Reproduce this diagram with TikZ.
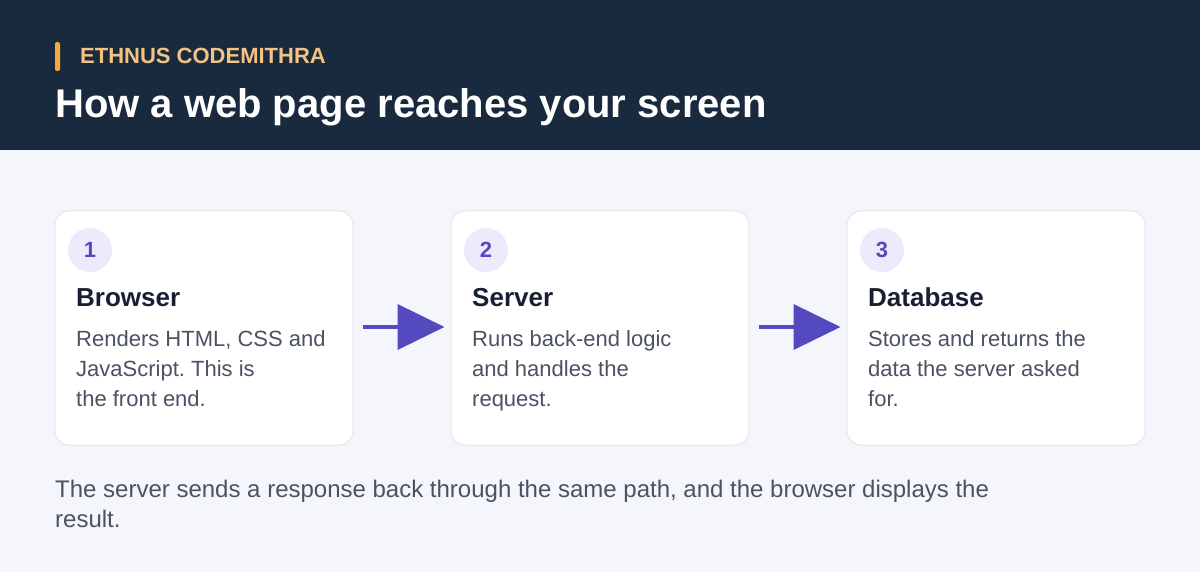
\documentclass[tikz,border=0pt]{standalone}
\usepackage{fontspec}
\setmainfont{Liberation Sans}
\frenchspacing
\usetikzlibrary{arrows.meta,positioning}
\definecolor{headbg}{HTML}{1A2A3E}
\definecolor{pagebg}{HTML}{F4F6FB}
\definecolor{accent}{HTML}{F5A93B}
\definecolor{brand}{HTML}{F3C384}
\definecolor{cardline}{HTML}{E3E6EE}
\definecolor{dotbg}{HTML}{EDEBFB}
\definecolor{violet}{HTML}{5549C0}
\definecolor{ink}{HTML}{172033}
\definecolor{body}{HTML}{4A5263}
\begin{document}
\begin{tikzpicture}[x=1pt,y=-1pt,
    card/.style={draw=cardline,line width=1pt,fill=white,rounded corners=14pt,
      minimum width=298pt,minimum height=234pt,inner sep=0pt},
    numdot/.style={circle,fill=dotbg,minimum size=44pt,inner sep=0pt,
      text=violet,font=\fontsize{22}{26}\selectfont\bfseries},
    cardtitle/.style={anchor=base west,inner sep=0pt,text=ink,
      font=\fontsize{26}{30}\selectfont\bfseries},
    cardtext/.style={anchor=base west,inner sep=0pt,text=body,align=left,
      font=\fontsize{22}{30}\selectfont},
    flow/.style={violet,line width=4pt,-{Triangle[length=47pt,width=45pt]}}]
    % page and header
    \fill[pagebg](0,0)rectangle(1200,572);
    \fill[headbg](0,0)rectangle(1200,150);
    \fill[accent,rounded corners=2pt](55,42)rectangle(60,71);
    \node[anchor=base west,inner sep=0pt,text=brand,
      font=\fontsize{22}{26}\selectfont\bfseries](brand)at(80,64){ETHNUS CODEMITHRA};
    \node[anchor=base west,inner sep=0pt,text=white,
      font=\fontsize{40}{44}\selectfont\bfseries](title)at(55,118){How a web page reaches your screen};
    % cards
    \node[card](browser)at(204,328){};
    \node[card](server)at(600,328){};
    \node[card](database)at(996,328){};
    \node[numdot](n1)at(90,250){1};
    \node[numdot](n2)at(486,250){2};
    \node[numdot](n3)at(882,250){3};
    \node[cardtitle](t1)at(76,306){Browser};
    \node[cardtitle](t2)at(472,306){Server};
    \node[cardtitle](t3)at(868,306){Database};
    % base of a multi-line node is its last line
    \node[cardtext](d1)at(76,406){Renders HTML, CSS and\\JavaScript. This is\\the front end.};
    \node[cardtext](d2)at(472,406){Runs back-end logic\\and handles the\\request.};
    \node[cardtext](d3)at(868,406){Stores and returns the\\data the server asked\\for.};
    % arrows
    \draw[flow,shorten <=9pt,shorten >=6pt](browser.east|-0,327)--(server.west|-0,327);
    \draw[flow,shorten <=9pt,shorten >=6pt](server.east|-0,327)--(database.west|-0,327);
    % footer
    \node[anchor=base west,inner sep=0pt,text=body,align=left,
      font=\fontsize{24}{30}\selectfont](note)at(55,527){The server sends a response back through the same path, and the browser displays the\\result.};
\end{tikzpicture}
\end{document}
